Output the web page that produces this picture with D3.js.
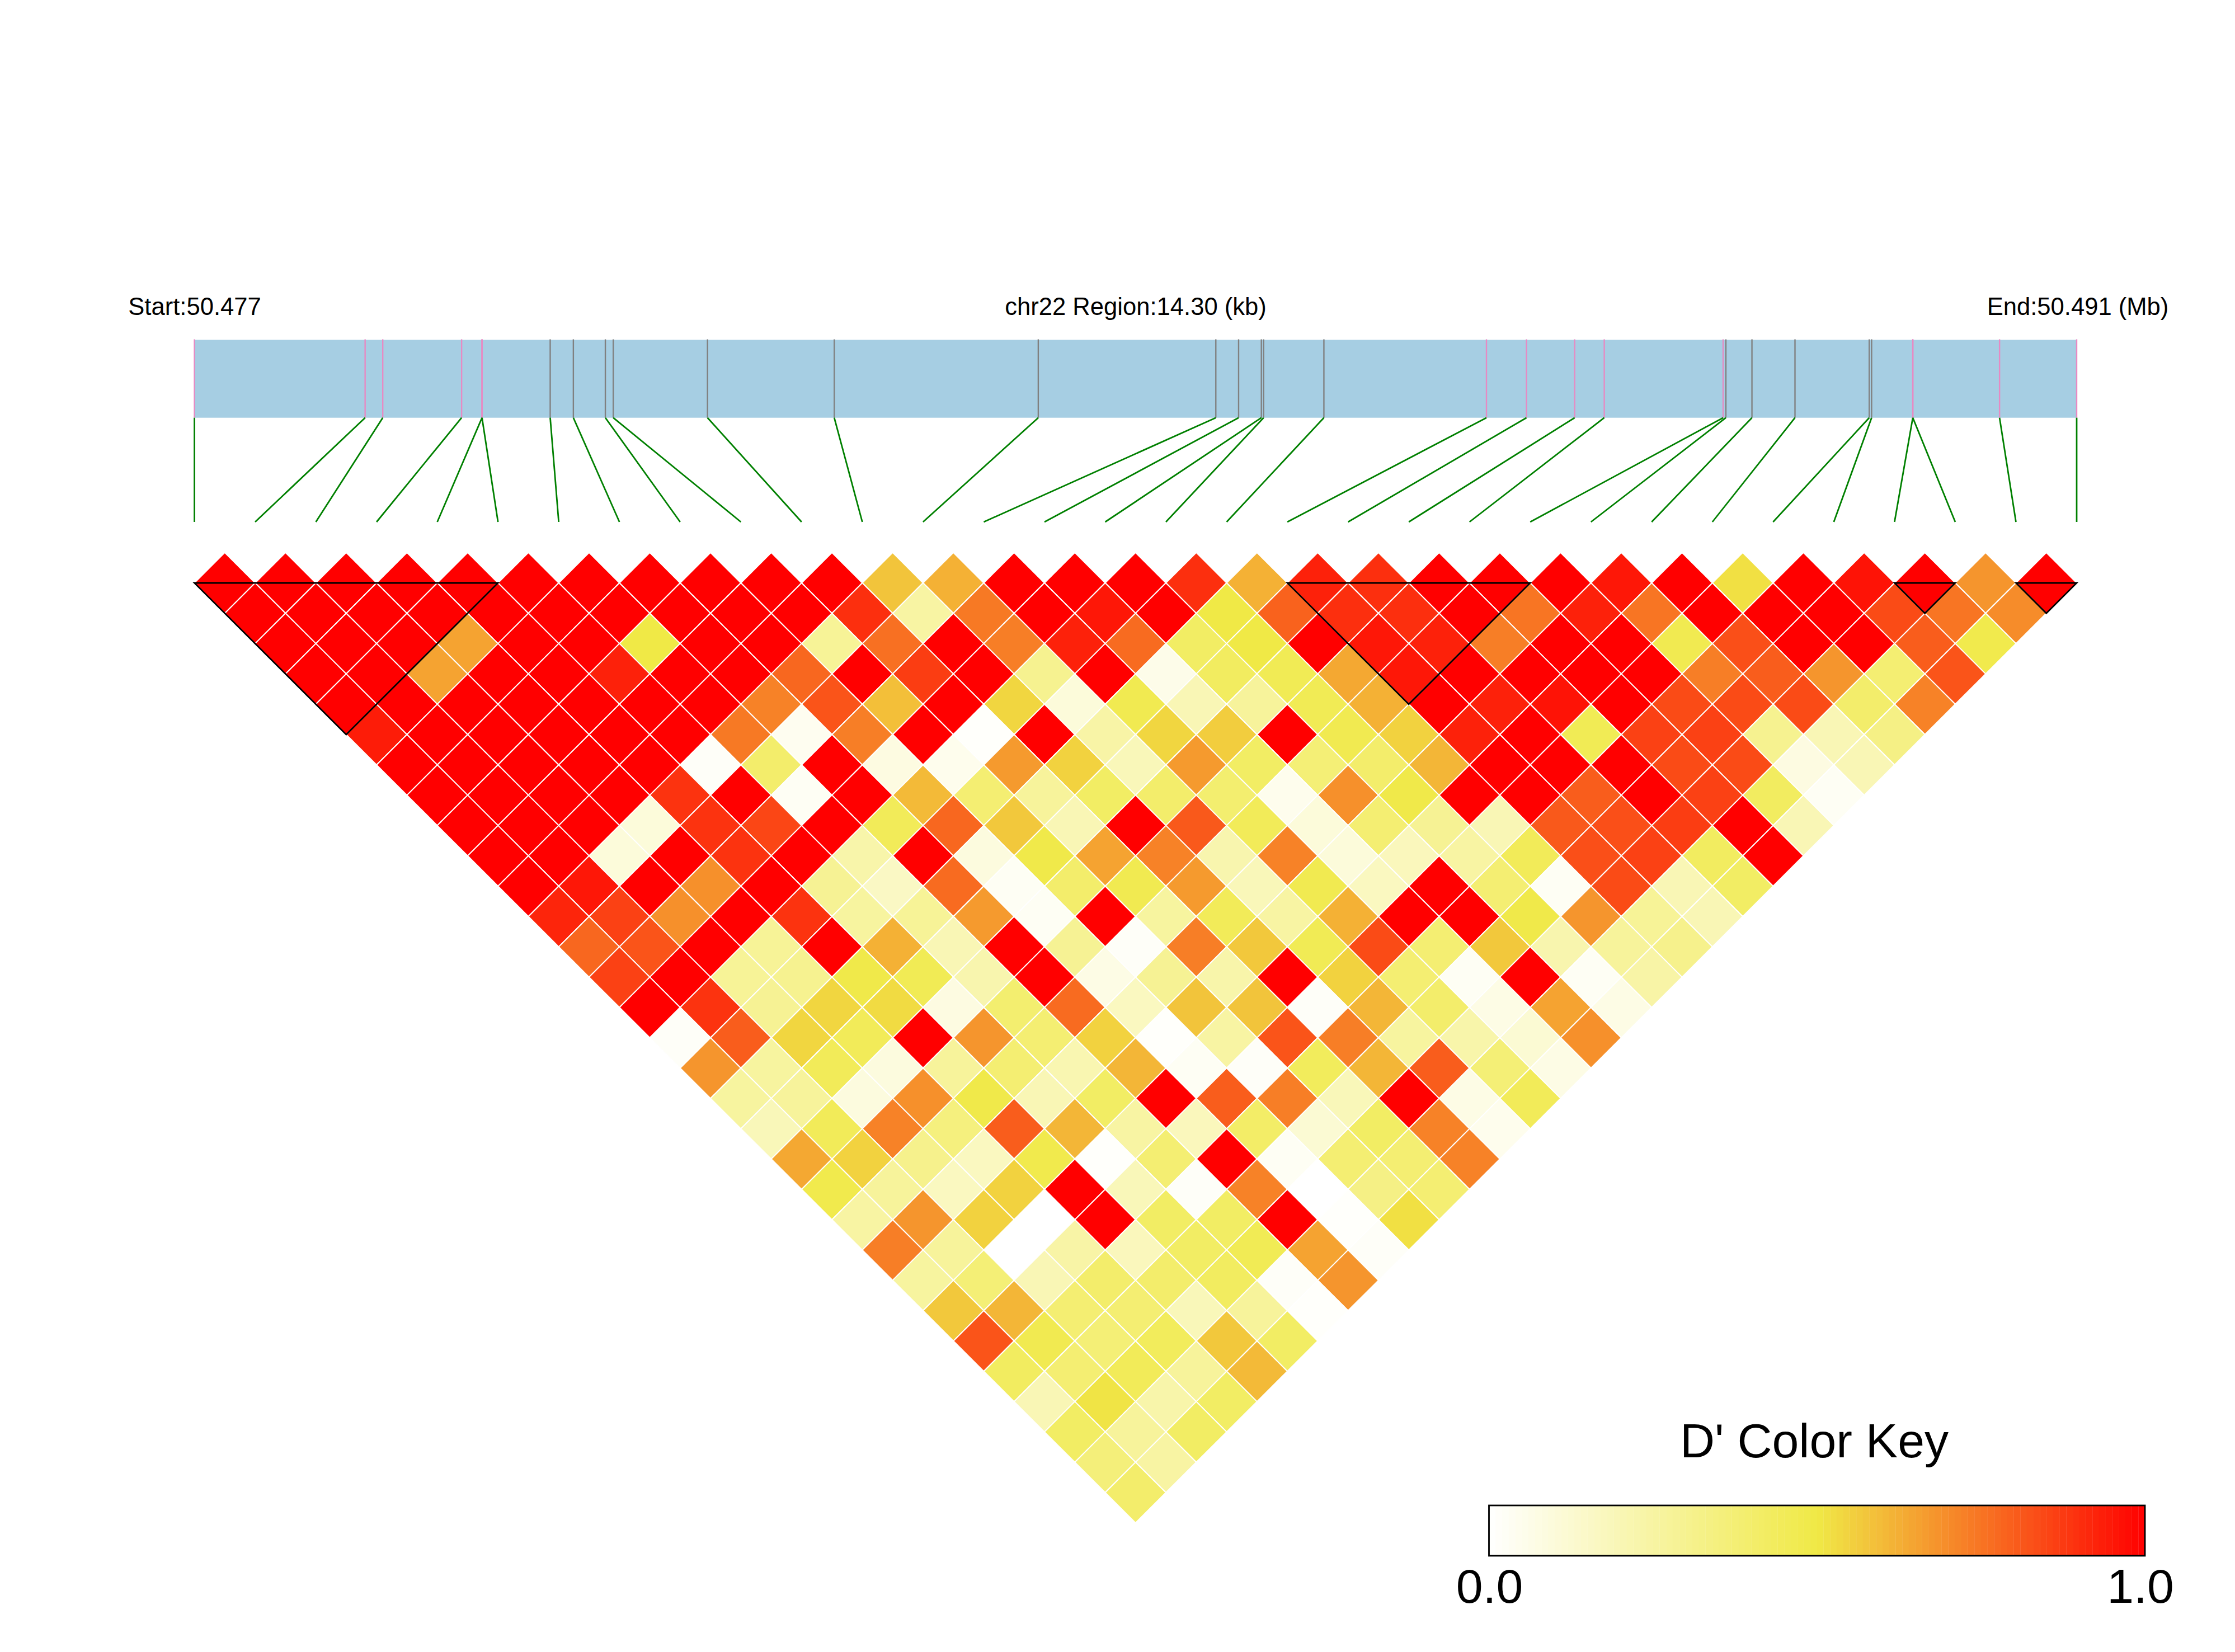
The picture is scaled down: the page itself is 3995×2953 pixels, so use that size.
<!DOCTYPE html>
<html><head><meta charset="utf-8">
<script src="https://d3js.org/d3.v7.min.js"></script>
<style>html,body{margin:0;padding:0;background:#fff}svg{display:block}text{font-family:"Liberation Sans",Arial,sans-serif;fill:#000}</style>
</head><body><svg id="c" width="3995" height="2953" viewBox="0 0 3995 2953"></svg>
<script>
// SNP positions in kb from region start; category 0 = pink, 1 = gray
const snpKb=[0,1.297,1.431,2.030,2.185,2.185,2.703,2.879,3.122,3.182,3.898,4.861,6.411,7.760,7.933,8.106,8.123,8.581,9.816,10.120,10.486,10.711,11.614,11.635,11.833,12.160,12.724,12.742,13.055,13.055,13.714,14.30];
const snpKind=[0,0,0,0,0,0,1,1,1,1,1,1,1,1,1,1,1,1,0,0,0,0,0,1,1,1,1,1,0,0,0,0];
const labelStart="Start:50.477", labelMid="chr22 Region:14.30 (kb)", labelEnd="End:50.491 (Mb)";
const keyTitle="D' Color Key", keyTicks=["0.0","1.0"];
const blocks=[[0,5],[18,22],[28,29],[30,31]];
// D' values per row: row k holds pairs (i, i+k+1)
const row0=[1,1,1,1,1,1,1,1,1,1,1,.58,.62,1,1,1,.9,.62,.93,.9,1,1,1,.95,1,.52,1,.96,1,.68,1];
const row1=[1,1,1,1,1,1,1,1,1,1,.9,.25,.74,1,.95,1,.5,.79,.9,.9,1,.75,.93,.75,1,1,1,.84,.75,.7];
const row2=[1,1,1,.65,1,1,.5,1,1,.28,.76,1,.73,.93,.77,.42,.5,1,.95,.93,.73,1,1,.47,.83,1,1,.8,.48];
const row3=[1,1,.65,1,1,.93,1,1,.78,1,.87,1,.3,1,.06,.43,.46,.64,.95,1,1,1,1,.73,.8,.68,.38,.82];
const row4=[1,1,1,1,1,1,1,.72,.82,.59,1,.54,.1,.47,.2,.27,.46,.62,1,.93,.96,1,.84,.84,.84,.4,.72];
const row5=[.94,1,1,1,1,1,.74,.04,.73,1,.01,1,.24,.54,.56,1,.47,.55,.93,1,.46,.86,.86,.3,.2,.33];
const row6=[1,1,1,1,1,.02,.4,1,.08,.05,.67,.55,.19,.67,.42,.37,.4,.61,1,1,1,.84,.84,.08,.2];
const row7=[1,1,1,1,.89,1,.03,1,.6,.38,.27,.42,.4,.39,.05,.69,.49,1,1,.8,1,.86,.43,.03];
const row8=[1,1,1,.1,.89,.85,1,.45,.78,.57,.2,1,.81,.45,.1,.38,.29,.2,.81,.83,.87,1,.2];
const row9=[1,1,.1,1,.89,1,.23,1,.09,.49,.65,.72,.22,.72,.1,.18,.25,.45,.83,.86,.43,1];
const row10=[1,.95,1,.69,1,.29,.16,.77,.03,.4,.47,.67,.19,.47,.17,1,.38,.03,.84,.2,.42];
const row11=[.92,.86,.69,1,.89,.26,.28,.67,.03,1,.26,.45,.25,.62,1,1,.49,.68,.28,.2];
const row12=[.78,.82,1,.28,1,.62,.2,1,.29,.02,.73,.57,.46,.84,.38,.57,.22,.27,.31];
const row13=[.86,1,.28,.3,.49,.46,.22,1,.07,.29,.23,1,.55,.38,.03,1,.03,.24];
const row14=[1,.89,.29,.54,.53,.08,.39,.77,.17,.58,.58,.02,.61,.4,.07,.65,.07];
const row15=[.02,.8,.54,.45,1,.68,.38,.55,.01,.25,.82,.73,.26,.23,.12,.69];
const row16=[.68,.26,.45,.09,.27,.38,.21,.61,.03,.02,.44,.61,.8,.37,.07];
const row17=[.26,.27,.09,.69,.49,.2,.42,1,.8,.73,.19,1,.07,.45];
const row18=[.19,.45,.72,.35,.8,.61,.25,.18,.41,.12,.42,.72,.05];
const row19=[.64,.55,.31,.17,.48,.01,.38,1,.03,.38,.38,.72];
const row20=[.48,.27,.17,.55,1,.19,.02,.72,0,.33,.38];
const row21=[.25,.68,.55,0,1,.42,.42,1,.01,.52];
const row22=[.73,.27,0,.24,.18,.42,.46,.65,.02];
const row23=[.26,.37,.2,.4,.4,.43,.02,.68];
const row24=[.57,.61,.38,.38,.19,.27,.01];
const row25=[.82,.47,.37,.44,.57,.42];
const row26=[.43,.38,.45,.27,.6];
const row27=[.2,.51,.23,.42];
const row28=[.42,.27,.42];
const row29=[.36,.25];
const row30=[.4];
const rows=[row0,row1,row2,row3,row4,row5,row6,row7,row8,row9,row10,row11,row12,row13,row14,row15,row16,row17,row18,row19,row20,row21,row22,row23,row24,row25,row26,row27,row28,row29,row30];

const svg=d3.select("#c");
const N=snpKb.length;
const xKb=d3.scaleLinear().domain([0,14.30]).range([347.5,3712]);
const xIdx=d3.scaleLinear().domain([0,N-1]).range([347.5,3712]);
const yRow=d3.scaleLinear().domain([0,30]).range([1042,1042+30*54.2]);
const color=d3.scaleLinear().domain([0,.5,1]).range(["#ffffff","#f0e946","#ff0000"]);
const hw=(xIdx(1)-xIdx(0))/2, hh=yRow(1)-yRow(0);

// header labels
[[labelStart,348],[labelMid,2030],[labelEnd,3714]].forEach(([t,x])=>{
  svg.append("text").attr("x",x).attr("y",563).attr("text-anchor","middle").attr("font-size",43.6).text(t);
});

// region bar
const barTop=607.5, barBot=746.7, connBot=933;
svg.append("rect").attr("x",xKb(0)).attr("y",barTop).attr("width",xKb(14.30)-xKb(0)).attr("height",barBot-barTop).attr("fill","#a6cee3");
svg.selectAll("line.tick").data(snpKb).join("line").attr("class","tick")
  .attr("x1",d=>xKb(d)).attr("x2",d=>xKb(d)).attr("y1",barTop-1).attr("y2",barBot)
  .attr("stroke",(d,i)=>snpKind[i]?"#808080":"#e78ac3").attr("stroke-width",2.4);
svg.selectAll("line.conn").data(snpKb).join("line").attr("class","conn")
  .attr("x1",d=>xKb(d)).attr("y1",barBot).attr("x2",(d,i)=>xIdx(i)).attr("y2",connBot)
  .attr("stroke","#008000").attr("stroke-width",2.8);

// LD cells
const cells=rows.flatMap((r,k)=>r.map((v,i)=>({k,i,v})));
svg.append("g").selectAll("polygon").data(cells).join("polygon")
  .attr("points",d=>{
    const cx=xIdx(d.i+(d.k+1)/2), cy=yRow(d.k);
    return [[cx,cy-hh],[cx+hw,cy],[cx,cy+hh],[cx-hw,cy]].join(" ");
  })
  .attr("fill",d=>color(d.v)).attr("stroke","#fff").attr("stroke-width",2);

// haplotype blocks
svg.append("g").selectAll("polygon").data(blocks).join("polygon")
  .attr("points",([a,b])=>[[xIdx(a),yRow(0)],[xIdx(b),yRow(0)],[xIdx((a+b)/2),yRow(0)+(b-a)*hh]].join(" "))
  .attr("fill","none").attr("stroke","#000").attr("stroke-width",2.8);

// colour key
const keyL=2661.5,keyR=3834,keyT=2691,keyB=2781;
const keyX=d3.scaleLinear().domain([0,1]).range([keyL,keyR]);
const steps=d3.range(100);
svg.append("g").selectAll("rect").data(steps).join("rect")
  .attr("x",d=>keyX(d/100)).attr("y",keyT).attr("width",(keyR-keyL)/100+.3).attr("height",keyB-keyT)
  .attr("fill",d=>color((d+.5)/100));
svg.append("rect").attr("x",keyL).attr("y",keyT).attr("width",keyR-keyL).attr("height",keyB-keyT)
  .attr("fill","none").attr("stroke","#000").attr("stroke-width",2.8);
svg.append("text").attr("x",3243).attr("y",2605).attr("text-anchor","middle").attr("font-size",86).text(keyTitle);
svg.append("text").attr("x",keyX(0)+1).attr("y",2865).attr("text-anchor","middle").attr("font-size",86).text(keyTicks[0]);
svg.append("text").attr("x",keyX(1)-8).attr("y",2865).attr("text-anchor","middle").attr("font-size",86).text(keyTicks[1]);
</script></body></html>
